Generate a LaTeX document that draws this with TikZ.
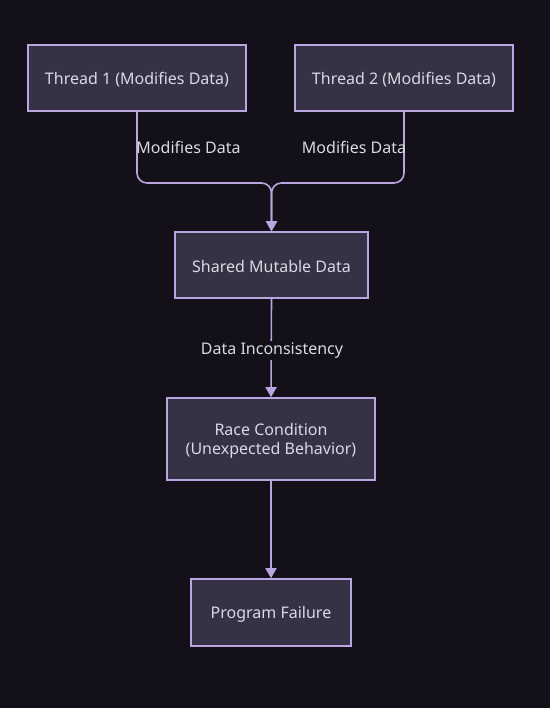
\documentclass[tikz,border=0pt]{standalone}
\usepackage{fontspec}
\setmainfont{Noto Sans}
\usetikzlibrary{arrows.meta}
\definecolor{bg}{HTML}{13101A}
\definecolor{nodefill}{HTML}{353245}
\definecolor{edge}{HTML}{B9A6E0}
\definecolor{txt}{HTML}{DAD8E2}
\tikzset{
  box/.style={draw=edge, fill=nodefill, line width=1.6pt, text=txt, font=\fontsize{16}{18.5}\selectfont, align=center, inner sep=0pt},
  conn/.style={draw=edge, line width=1.6pt, rounded corners=10pt},
  arr/.style={-{Triangle[width=11pt,length=10pt]}},
  lbl/.style={text=txt, font=\fontsize{16}{18.5}\selectfont, inner sep=2pt}
}
\begin{document}
\begin{tikzpicture}[x=1pt,y=-1pt]
\fill[bg] (0,0) rectangle (550,708);
\useasboundingbox (0,0) rectangle (550,708);
\node[box, minimum width=218pt, minimum height=66pt] (t1) at (137,78) {};
\node[box, minimum width=218pt, minimum height=66pt] (t2) at (404,78) {};
\node[box, minimum width=193pt, minimum height=66pt] (sh) at (271.5,265) {};
\node[box, minimum width=208pt, minimum height=82pt] (rc) at (271,439) {};
\node[box, minimum width=160pt, minimum height=67pt] (pf) at (271,612.5) {};
\node[box, draw=none, fill=none] (t1t) at (137,79.5) {Thread 1 (Modifies Data)};
\node[box, draw=none, fill=none] (t2t) at (404,79.5) {Thread 2 (Modifies Data)};
\node[box, draw=none, fill=none] (sht) at (271.5,266.5) {Shared Mutable Data};
\node[box, draw=none, fill=none] (rct) at (271,441) {Race Condition\\(Unexpected Behavior)};
\node[box, draw=none, fill=none] (pft) at (271,614) {Program Failure};
\coordinate (m) at (271.5,183);
\draw[conn, arr] (t1.south) |- (m) -- (sh.north);
\draw[conn, arr] (t2.south) |- (m) -- (sh.north);
\node[lbl] (l1) at (188.5,147.5) {Modifies Data};
\node[lbl] (l2) at (354,147.5) {Modifies Data};
\draw[conn, arr] (sh.south) -- (rc.north);
\node[lbl, fill=bg] (l3) at (272,350.5) {Data Inconsistency};
\draw[conn, arr] (rc.south) -- (pf.north);
\end{tikzpicture}
\end{document}
